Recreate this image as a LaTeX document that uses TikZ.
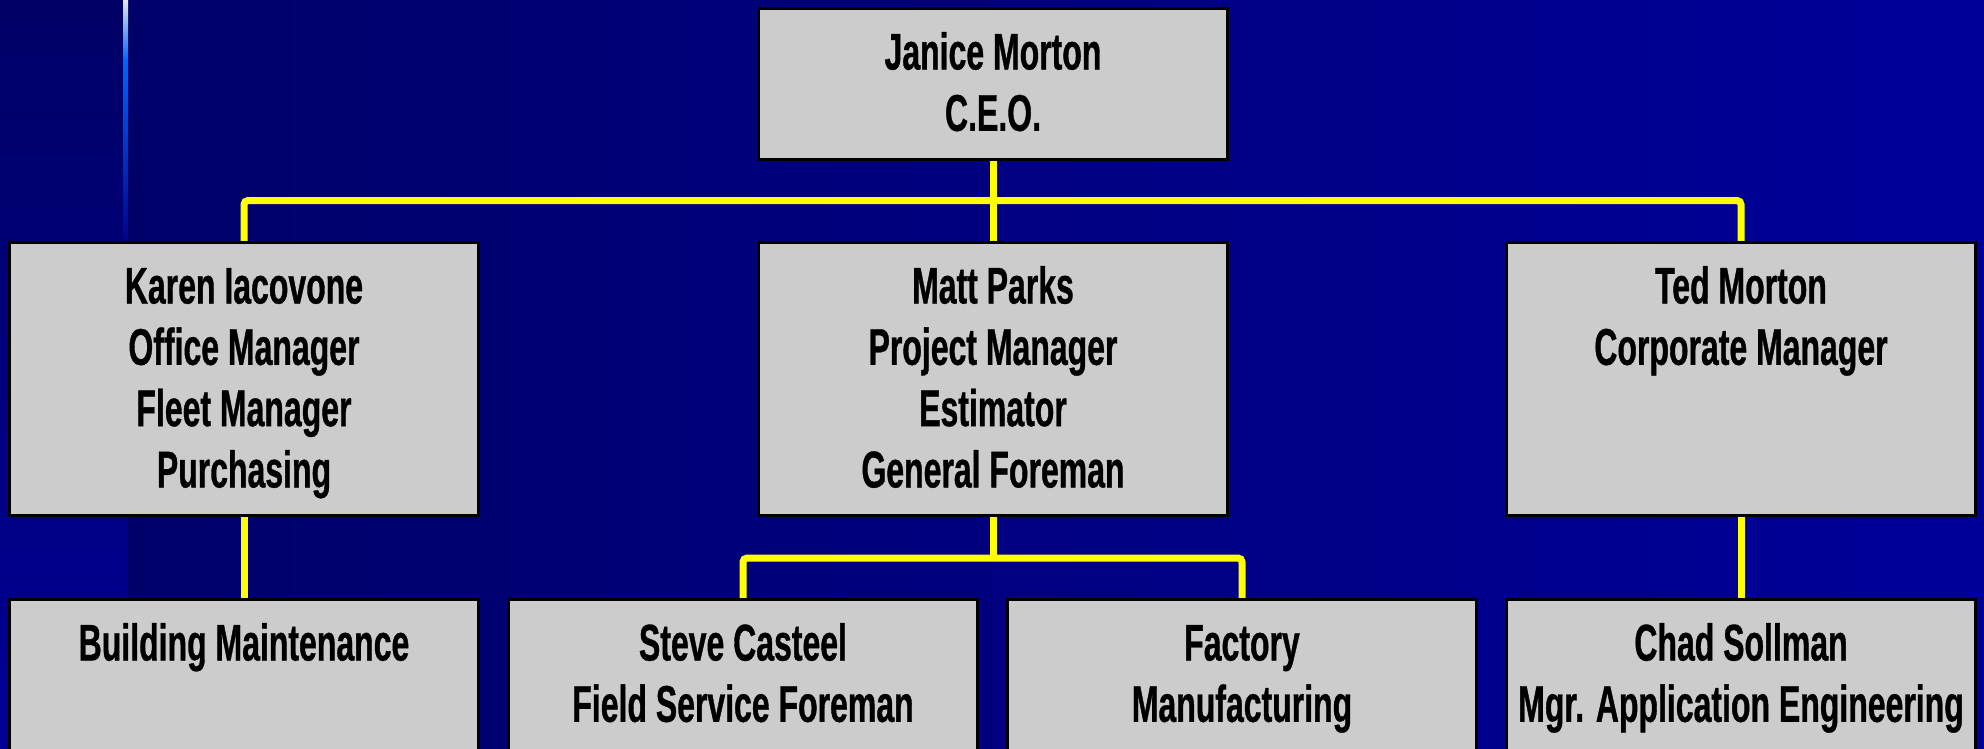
\documentclass[tikz,border=0pt]{standalone}
\usepackage{fontspec}
\newfontfamily\orgfont[FakeStretch=0.62,FakeBold=0.7]{Liberation Sans Bold}
\definecolor{bgL}{RGB}{0,0,102}
\definecolor{bgR}{RGB}{0,0,153}
\definecolor{stripB}{RGB}{0,0,150}
\definecolor{boxgray}{RGB}{204,204,204}
\definecolor{linkyellow}{RGB}{255,255,0}
\definecolor{glowA}{RGB}{232,232,232}
\definecolor{glowB}{RGB}{0,102,255}
\definecolor{glowC}{RGB}{0,0,135}
\pgfdeclarelayer{background}
\pgfdeclarelayer{links}
\pgfsetlayers{background,links,main}
\tikzset{
  orgbox/.style={draw=black, line width=3pt, fill=boxgray, inner sep=0pt, outer sep=0pt, rectangle, anchor=north west},
  conn/.style={draw=linkyellow, line width=7pt, rounded corners=4pt},
}
\newcommand\orgtext[3]{\parbox[c][#2][t]{#1}{\centering\orgfont\fontsize{51.6pt}{61.3pt}\selectfont\rule{0pt}{61pt}#3\par}}
\begin{document}
\begin{tikzpicture}[x=1pt,y=-1pt]
\useasboundingbox (0,0) rectangle (1984,748);
\clip (0,0) rectangle (1984,748);
\begin{pgfonlayer}{background}
  \shade[left color=bgL, right color=bgR] (0,0) rectangle (1984,748);
  \shade[top color=bgL, bottom color=stripB] (0,0) rectangle (128,748);
  \shade[top color=glowA, bottom color=glowB] (123,0) rectangle (128,60);
  \shade[top color=glowB, bottom color=glowC] (123,60) rectangle (128,245);
\end{pgfonlayer}

\node[orgbox] (ceo) at (758.5,8.5) {\orgtext{469pt}{151pt}{Janice Morton\\C.E.O.}};

\node[orgbox] (karen) at (9.5,242.5) {\orgtext{469pt}{273pt}{Karen Iacovone\\Office Manager\\Fleet Manager\\Purchasing}};
\node[orgbox] (matt) at (758.5,242.5) {\orgtext{469pt}{273pt}{Matt Parks\\Project Manager\\Estimator\\General Foreman}};
\node[orgbox] (ted) at (1506.5,242.5) {\orgtext{469pt}{273pt}{Ted Morton\\Corporate Manager}};

\node[orgbox] (bldg) at (9.5,599.5) {\orgtext{469pt}{250pt}{Building Maintenance}};
\node[orgbox] (steve) at (508.5,599.5) {\orgtext{469pt}{250pt}{Steve Casteel\\Field Service Foreman}};
\node[orgbox] (factory) at (1007.5,599.5) {\orgtext{469pt}{250pt}{Factory\\Manufacturing}};
\node[orgbox] (chad) at (1506.5,599.5) {\orgtext{469pt}{250pt}{Chad Sollman\\Mgr. Application Engineering}};

\coordinate (bus) at (0,200.5);
\coordinate (sub) at (0,558);
\begin{pgfonlayer}{links}
  \draw[conn] (karen.north) |- (bus -| ceo.south) -| (ted.north);
  \draw[conn] (ceo.south) -- (matt.north);
  \draw[conn] (steve.north) |- (sub -| matt.south) -| (factory.north);
  \draw[conn] (matt.south) -- (sub -| matt.south);
  \draw[conn] (karen.south) -- (bldg.north);
  \draw[conn] (ted.south) -- (chad.north);
\end{pgfonlayer}
\end{tikzpicture}
\end{document}
